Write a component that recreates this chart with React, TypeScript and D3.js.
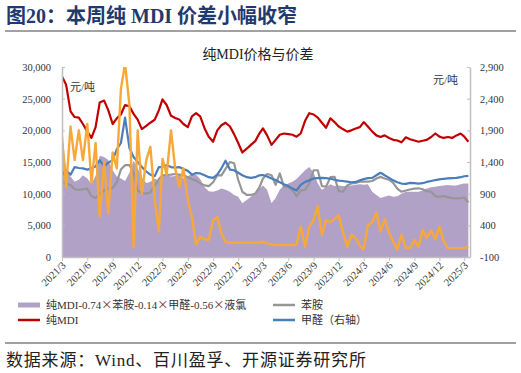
import React, { useRef, useEffect } from 'react'
import * as d3 from 'd3'

// semi-monthly readings (1st and 16th of each month), 2021/3 .. 2025/3
// 纯MDI-0.74×苯胺-0.14×甲醛-0.56×液氯 (left axis)
const spread = [
  19500, 14000, 12700, 11900, 12200, 12900, 12400, 11600, 12800, 16000,
  15800, 15300, 13700, 12700, 12400, 12000, 13300, 15200, 14000, 12600,
  11700, 11900, 12400, 12000, 12700, 12900, 12700, 12800, 12900, 12400,
  12800, 13100, 13000, 12300, 11000, 10400, 10300, 10500, 10800, 10600,
  10300, 9800, 9500, 8500, 9000, 9500, 10200, 10800, 11300, 10600,
  8500, 9300, 10600, 11300, 11600, 11900, 12300, 13000, 13700, 14200,
  13300, 11600, 10600, 11000, 11500, 11200, 11300, 11200, 11200, 11300,
  11400, 11500, 11400, 11500, 10300, 9800, 9300, 9500, 9700, 9500,
  9600, 10000, 10300, 10300, 10300, 10300, 10500, 10800, 11000, 11100,
  11200, 11300, 11350, 11300, 11300, 11500, 11600, 11600,
]
// 纯MDI (left axis)
const mdi = [
  28500, 27200, 23000, 22100, 22000, 21000, 19800, 18800, 20500, 24400,
  24700, 23200, 21000, 21900, 22500, 24000, 23800, 22600, 21700, 20200,
  20700, 21200, 21700, 23200, 24900, 24000, 22300, 21950, 21700, 21000,
  20500, 22200, 22700, 22200, 20300, 19000, 18200, 20000, 20800, 21200,
  20600, 19400, 18000, 16500, 17100, 17700, 18300, 19500, 20300, 19200,
  17700, 18500, 19300, 19500, 19400, 19300, 19000, 19500, 21500, 22700,
  22500, 22000, 21200, 20400, 21900, 21300, 20600, 20200, 19800, 20000,
  20300, 20500, 21300, 20600, 19800, 19200, 18950, 19200, 18800, 18500,
  18400, 18100, 18900, 18600, 18400, 18200, 18350, 18500, 18950, 19500,
  19000, 18800, 18950, 18800, 19200, 19500, 19000, 18200,
]
// 苯胺 (left axis)
const aniline = [
  11900, 11600, 11350, 10700, 10600, 10700, 10800, 9600, 9300, 10000,
  10500, 10800, 10900, 11800, 13800, 14500, 14500, 13300, 10500, 10100,
  10000, 10200, 11300, 12300, 12900, 12950, 13000, 13100, 13000, 12900,
  12600, 12300, 12100, 11650, 11300, 11200, 11800, 12900, 12900, 13900,
  15000, 14800, 12200, 10300, 9800, 9800, 10000, 11000, 12400, 13100,
  12900, 11400, 13200, 11100, 11050, 10600, 9600, 10500, 10600, 11600,
  13700, 13700, 11200, 11100, 12600, 12650, 10400, 10300, 11300, 11600,
  11700, 11900, 11900, 11900, 12000, 12400, 12650, 12400, 12200, 11700,
  10800, 10300, 10500, 10650, 10800, 10850, 10700, 10400, 10300, 9600,
  9500, 9600, 9450, 9300, 9250, 9300, 9400, 8600,
]
// 甲醛 (right axis)
const formaldehyde = [
  1195, 1270, 1200, 1320, 1305, 1300, 1280, 1300, 1330, 1430,
  1330, 1390, 1430, 1600, 1700, 2100, 1620, 1480, 1400, 1320,
  1250, 1200, 1180, 1320, 1320, 1350, 1320, 1310, 1320, 1290,
  1260, 1200, 1225, 1220, 1190, 1160, 1150, 1200, 1300, 1420,
  1280, 1270, 1230, 1190, 1160, 1150, 1160, 1190, 1195, 1170,
  1140, 1115, 1080, 1050, 1020, 980, 950, 1040, 1085, 1110,
  1140, 1145, 1150, 1145, 1135, 1120, 1105, 1100, 1090, 1080,
  1085, 1110, 1130, 1145, 1150, 1190, 1230, 1190, 1150, 1110,
  1080, 1060, 1055, 1070, 1065, 1060, 1065, 1085, 1100, 1115,
  1125, 1135, 1140, 1145, 1150, 1160, 1175, 1180,
]
// 液氯 (right axis)
const chlorine = [
  1800, 1000, 1960, 1430, 1900, 1430, 2000, 1070, 1700, 540,
  1400, 590, 1550, 1300, 2550, 2950, 2300, 60, 1900, 900,
  1430, 1640, 800, 300, 1450, 1200, 1900, 1300, 1000, 1300,
  800, 530, 100, 220, 180, 170, 480, 530, 280, 140,
  125, 125, 125, 125, 125, 125, 125, 130, 140, 115,
  100, 90, 90, 90, 90, 90, 100, 380, 60, 380,
  480, 700, 250, 480, 450, 500, 560, 300, 60, 250,
  200, 80, 20, 400, 450, 600, 300, 500, 280, 140,
  20, 250, 40, 40, 170, 60, 330, 200, 320, 180,
  380, 150, 40, 40, 40, 40, 40, 60,
]

const leftTicks = [0, 5000, 10000, 15000, 20000, 25000, 30000]
const rightTicks = [-100, 400, 900, 1400, 1900, 2400, 2900]
const xTickLabels = [
  '2021/3', '2021/6', '2021/9', '2021/12', '2022/3', '2022/6', '2022/9', '2022/12',
  '2023/3', '2023/6', '2023/9', '2023/12', '2024/3', '2024/6', '2024/9', '2024/12', '2025/3',
]

const dates = d3
  .timeMonth
  .range(new Date(2021, 2, 1), new Date(2025, 3, 1))
  .flatMap(m => [m, d3.timeDay.offset(m, 15)])
const parseMonth = d3.timeParse('%Y/%m')

const W = 521
const H = 373
const X0 = 62
const X1 = 470
const Y0 = 257
const Y1 = 67

const C_PURPLE = '#B2A1C7'
const C_RED = '#C00000'
const C_GRAY = '#969696'
const C_BLUE = '#4A7EBB'
const C_ORANGE = '#F8A838'
const SERIF = '"Liberation Serif", "Noto Sans CJK SC", serif'
const CJK = '"Liberation Serif", "Noto Sans CJK SC", sans-serif'

function Chart() {
  const ref = useRef(null)

  useEffect(() => {
    const svg = d3.select(ref.current)
    svg.selectAll('*').remove()

    const x = d3
      .scaleTime()
      .domain([new Date(2021, 2, 1), new Date(2025, 2, 22)])
      .range([X0, X1])
    const yL = d3.scaleLinear().domain([0, 30000]).range([Y0, Y1])
    const yR = d3.scaleLinear().domain([-100, 2900]).range([Y0, Y1])
    const fmt = d => d3.format(',')(d).replace('−', '-')

    svg
      .append('clipPath')
      .attr('id', 'plot-clip')
      .append('rect')
      .attr('x', X0)
      .attr('y', Y1)
      .attr('width', X1 - X0)
      .attr('height', Y0 - Y1)

    const plot = svg.append('g').attr('clip-path', 'url(#plot-clip)')

    const area = d3
      .area()
      .x((d, i) => x(dates[i]))
      .y0(yL(0))
      .y1(d => yL(d))
    plot.append('path').attr('d', area(spread)).attr('fill', C_PURPLE)

    const lineL = d3.line().x((d, i) => x(dates[i])).y(d => yL(d))
    const lineR = d3.line().x((d, i) => x(dates[i])).y(d => yR(d))

    const series = [
      { d: lineL(mdi), c: C_RED, w: 2.2 },
      { d: lineL(aniline), c: C_GRAY, w: 2.2 },
      { d: lineR(formaldehyde), c: C_BLUE, w: 2.2 },
      { d: lineR(chlorine), c: C_ORANGE, w: 2.4 },
    ]
    series.forEach(s => {
      plot
        .append('path')
        .attr('d', s.d)
        .attr('fill', 'none')
        .attr('stroke', s.c)
        .attr('stroke-width', s.w)
        .attr('stroke-linejoin', 'round')
    })

    const styleAxis = g => {
      g.select('.domain').attr('stroke', '#BFBFBF').attr('stroke-width', 1.5)
      g.selectAll('.tick line').attr('stroke', '#BFBFBF')
      g.selectAll('text')
        .attr('font-family', SERIF)
        .attr('font-size', 10.5)
        .attr('fill', '#333')
    }

    svg
      .append('g')
      .attr('transform', `translate(${X0},0)`)
      .call(
        d3.axisLeft(yL).tickValues(leftTicks).tickSize(-3).tickSizeOuter(0).tickPadding(11).tickFormat(fmt)
      )
      .call(styleAxis)

    svg
      .append('g')
      .attr('transform', `translate(${X1},0)`)
      .call(
        d3.axisRight(yR).tickValues(rightTicks).tickSize(-3).tickSizeOuter(0).tickPadding(10).tickFormat(fmt)
      )
      .call(styleAxis)

    const xAxis = svg
      .append('g')
      .attr('transform', `translate(0,${Y0})`)
      .call(
        d3
          .axisBottom(x)
          .tickValues(xTickLabels.map(s => parseMonth(s)))
          .tickSize(4)
          .tickSizeOuter(0)
          .tickFormat(d3.timeFormat('%Y/%-m'))
      )
      .call(styleAxis)
    xAxis
      .selectAll('.tick text')
      .attr('text-anchor', 'end')
      .attr('dy', 0)
      .attr('y', 0)
      .attr('transform', 'translate(4,9) rotate(-45)')
  }, [])

  return <g ref={ref} />
}

const legendRows = [
  [
    { label: '纯MDI-0.74×苯胺-0.14×甲醛-0.56×液氯', color: C_PURPLE, kind: 'rect' },
    { label: '苯胺', color: C_GRAY, kind: 'line' },
  ],
  [
    { label: '纯MDI', color: C_RED, kind: 'line' },
    { label: '甲醛（右轴）', color: C_BLUE, kind: 'line' },
  ],
]

export default function App() {
  return (
    <svg
      width={W}
      height={H}
      style={{ position: 'absolute', left: 0, top: 0, background: '#fff' }}
    >
      <text x={6} y={23} fontFamily={CJK} fontWeight="bold" fontSize={20} fill="#1F3A6E">
        图20：本周纯 MDI 价差小幅收窄
      </text>
      <line x1={5} x2={516} y1={31} y2={31} stroke="#444" strokeWidth={1} />
      <text x={258} y={59} textAnchor="middle" fontFamily={CJK} fontSize={14} fill="#222">
        纯MDI价格与价差
      </text>
      <text x={70} y={91} fontFamily={CJK} fontSize={11} fill="#333">元/吨</text>
      <text x={433} y={84} fontFamily={CJK} fontSize={11} fill="#333">元/吨</text>
      <Chart />
      {legendRows.map((row, r) =>
        row.map((it, c) => {
          const lx = c === 0 ? 18 : 273
          const ly = 305 + r * 15
          const parts = it.label.split('×')
          return (
            <g key={`${r}-${c}`}>
              {it.kind === 'rect' ? (
                <rect x={lx} y={ly - 2.5} width={22} height={5} fill={it.color} />
              ) : (
                <line x1={lx} x2={lx + 22} y1={ly} y2={ly} stroke={it.color} strokeWidth={2.5} />
              )}
              <text x={lx + 28} y={ly + 4} fontFamily={CJK} fontSize={11} fill="#333">
                {parts.map((p, k) => (
                  <React.Fragment key={k}>
                    {k > 0 && <tspan fontFamily='"Noto Sans CJK SC"'>×</tspan>}
                    {p}
                  </React.Fragment>
                ))}
              </text>
            </g>
          )
        })
      )}
      <line x1={5} x2={516} y1={343} y2={343} stroke="#444" strokeWidth={1} />
      <text x={6} y={366} fontFamily={CJK} fontSize={17} letterSpacing={0.8} fill="#222">
        数据来源：Wind、百川盈孚、开源证券研究所
      </text>
    </svg>
  )
}
